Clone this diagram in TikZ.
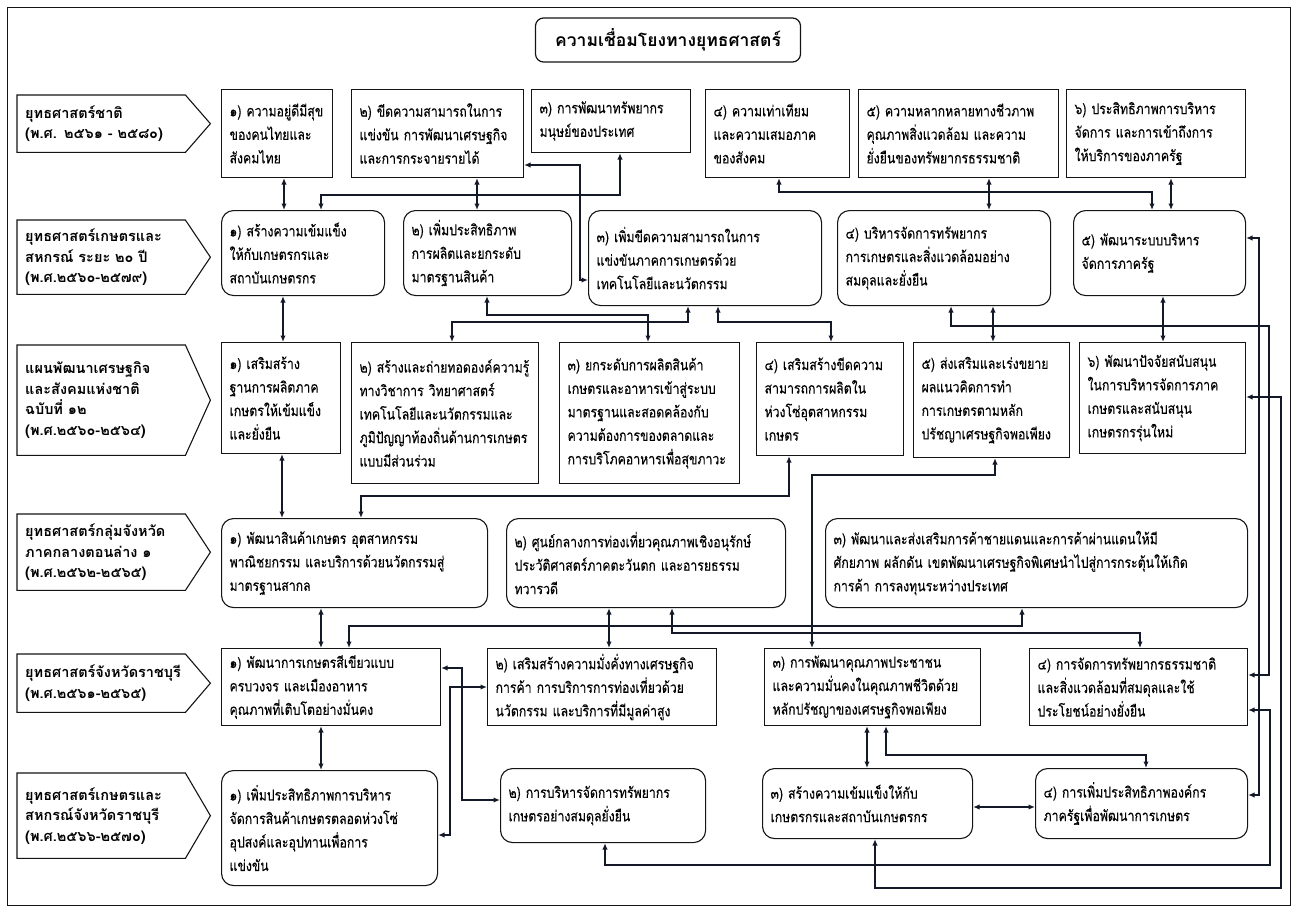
\documentclass[tikz,border=0pt]{standalone}
\usepackage{fontspec}
\newfontfamily\thaifont[Script=Thai, FakeStretch=0.82, FakeBold=0.25]{Loma}
\newfontfamily\thaiwide[Script=Thai]{Loma}
\usepackage{xcolor}
\definecolor{LinkColor}{RGB}{20,25,40}
\definecolor{BoxBorder}{RGB}{20,20,20}
\usepackage{tikz}
\usetikzlibrary{arrows.meta}
\tikzset{
  % square box
  sbox/.style={
    draw=BoxBorder,
    rectangle,
    anchor=north west,
    align=left,
    inner xsep=8pt,
    inner ysep=2pt,
    line width=1.1pt,
    font=\thaifont\fontsize{15}{23.5}\selectfont
  },
  % rounded box
  rbox/.style={sbox, rounded corners=12pt},
  % row label (arrow shaped)
  stage/.style={
    anchor=north west,
    align=left,
    inner xsep=8pt,
    inner ysep=2pt,
    font=\thaiwide\bfseries\fontsize{14.5}{20.5}\selectfont
  },
  stageline/.style={draw=BoxBorder, line width=1.1pt},
  % title box
  titlebox/.style={
    draw=BoxBorder,
    rounded corners=8pt,
    line width=1.2pt,
    minimum width=265pt,
    minimum height=44pt,
    font=\thaiwide\bfseries\fontsize{17.5}{20}\selectfont
  },
  % connector
  link/.style={
    draw=LinkColor,
    line width=1.4pt,
    {Latex[length=6.5pt,width=5.5pt]}-{Latex[length=6.5pt,width=5.5pt]}
  },
  outerframe/.style={draw=BoxBorder, line width=0.8pt}
}

\begin{document}
\begin{tikzpicture}[x=1pt, y=-1pt]
  \useasboundingbox (0,0) rectangle (1297,912);
  \draw[outerframe] (7,7) rectangle (1290,905);

  \node[titlebox] (title) at (668,40) {ความเชื่อมโยงทางยุทธศาสตร์};

  % row labels
  \node[stage, text width=152pt, minimum height=57pt] (s1) at (17,95) {ยุทธศาสตร์ชาติ\\(พ.ศ. ๒๕๖๑ - ๒๕๘๐)};
  \node[stage, text width=152pt, minimum height=74pt] (s2) at (17,220) {ยุทธศาสตร์เกษตรและ\\สหกรณ์ ระยะ ๒๐ ปี\\(พ.ศ.๒๕๖๐-๒๕๗๙)};
  \node[stage, text width=152pt, minimum height=110pt] (s3) at (17,345) {แผนพัฒนาเศรษฐกิจ\\และสังคมแห่งชาติ\\ฉบับที่ ๑๒\\(พ.ศ.๒๕๖๐-๒๕๖๔)};
  \node[stage, text width=152pt, minimum height=76pt] (s4) at (17,514) {ยุทธศาสตร์กลุ่มจังหวัด\\ภาคกลางตอนล่าง ๑\\(พ.ศ.๒๕๖๒-๒๕๖๕)};
  \node[stage, text width=152pt, minimum height=58pt] (s5) at (17,654) {ยุทธศาสตร์จังหวัดราชบุรี\\(พ.ศ.๒๕๖๑-๒๕๖๕)};
  \node[stage, text width=152pt, minimum height=85pt] (s6) at (17,773) {ยุทธศาสตร์เกษตรและ\\สหกรณ์จังหวัดราชบุรี\\(พ.ศ.๒๕๖๖-๒๕๗๐)};
  \foreach \i in {1,...,6} {
    \draw[stageline] (s\i.north west) -- (s\i.north east) -- ([xshift=25pt]s\i.east)
      -- (s\i.south east) -- (s\i.south west) -- cycle;
  }

  % national strategy
  \node[sbox, text width=95pt, minimum height=88pt] (a1) at (221,89) {๑) ความอยู่ดีมีสุข\\ของคนไทยและ\\สังคมไทย};
  \node[sbox, text width=156pt, minimum height=88pt] (a2) at (351,89) {๒) ขีดความสามารถในการ\\แข่งขัน การพัฒนาเศรษฐกิจ\\และการกระจายรายได้};
  \node[sbox, text width=143pt, minimum height=63pt] (a3) at (531,89) {๓) การพัฒนาทรัพยากร\\มนุษย์ของประเทศ};
  \node[sbox, text width=128pt, minimum height=88pt] (a4) at (705,89) {๔) ความเท่าเทียม\\และความเสมอภาค\\ของสังคม};
  \node[sbox, text width=184pt, minimum height=88pt] (a5) at (858,89) {๕) ความหลากหลายทางชีวภาพ\\คุณภาพสิ่งแวดล้อม และความ\\ยั่งยืนของทรัพยากรธรรมชาติ};
  \node[sbox, text width=163pt, minimum height=88pt] (a6) at (1066,89) {๖) ประสิทธิภาพการบริหาร\\จัดการ และการเข้าถึงการ\\ให้บริการของภาครัฐ};

  % agriculture 20 years
  \node[rbox, text width=147pt, minimum height=85pt] (b1) at (221,210) {๑) สร้างความเข้มแข็ง\\ให้กับเกษตรกรและ\\สถาบันเกษตรกร};
  \node[rbox, text width=152pt, minimum height=85pt] (b2) at (403,210) {๒) เพิ่มประสิทธิภาพ\\การผลิตและยกระดับ\\มาตรฐานสินค้า};
  \node[rbox, text width=217pt, minimum height=95pt] (b3) at (588,210) {๓) เพิ่มขีดความสามารถในการ\\แข่งขันภาคการเกษตรด้วย\\เทคโนโลยีและนวัตกรรม};
  \node[rbox, text width=197pt, minimum height=95pt] (b4) at (837,210) {๔) บริหารจัดการทรัพยากร\\การเกษตรและสิ่งแวดล้อมอย่าง\\สมดุลและยั่งยืน};
  \node[rbox, text width=156pt, minimum height=85pt] (b5) at (1073,210) {๕) พัฒนาระบบบริหาร\\จัดการภาครัฐ};

  % national plan 12
  \node[sbox, text width=103pt, minimum height=111pt] (c1) at (221,342) {๑) เสริมสร้าง\\ฐานการผลิตภาค\\เกษตรให้เข้มแข็ง\\และยั่งยืน};
  \node[sbox, text width=171pt, minimum height=141pt] (c2) at (351,342) {๒) สร้างและถ่ายทอดองค์ความรู้\\ทางวิชาการ วิทยาศาสตร์\\เทคโนโลยีและนวัตกรรมและ\\ภูมิปัญญาท้องถิ่นด้านการเกษตร\\แบบมีส่วนร่วม};
  \node[sbox, text width=164pt, minimum height=141pt] (c3) at (559,342) {๓) ยกระดับการผลิตสินค้า\\เกษตรและอาหารเข้าสู่ระบบ\\มาตรฐานและสอดคล้องกับ\\ความต้องการของตลาดและ\\การบริโภคอาหารเพื่อสุขภาวะ};
  \node[sbox, text width=131pt, minimum height=113pt] (c4) at (756,342) {๔) เสริมสร้างขีดความ\\สามารถการผลิตใน\\ห่วงโซ่อุตสาหกรรม\\เกษตร};
  \node[sbox, text width=140pt, minimum height=115pt] (c5) at (913,342) {๕) ส่งเสริมและเร่งขยาย\\ผลแนวคิดการทำ\\การเกษตรตามหลัก\\ปรัชญาเศรษฐกิจพอเพียง};
  \node[sbox, text width=150pt, minimum height=111pt] (c6) at (1079,342) {๖) พัฒนาปัจจัยสนับสนุน\\ในการบริหารจัดการภาค\\เกษตรและสนับสนุน\\เกษตรกรรุ่นใหม่};

  % province group
  \node[rbox, text width=250pt, minimum height=89pt] (d1) at (221,518) {๑) พัฒนาสินค้าเกษตร อุตสาหกรรม\\พาณิชยกรรม และบริการด้วยนวัตกรรมสู่\\มาตรฐานสากล};
  \node[rbox, text width=263pt, minimum height=89pt] (d2) at (506,518) {๒) ศูนย์กลางการท่องเที่ยวคุณภาพเชิงอนุรักษ์\\ประวัติศาสตร์ภาคตะวันตก และอารยธรรม\\ทวารวดี};
  \node[rbox, text width=406pt, minimum height=89pt] (d3) at (825,518) {๓) พัฒนาและส่งเสริมการค้าชายแดนและการค้าผ่านแดนให้มี\\ศักยภาพ ผลักดัน เขตพัฒนาเศรษฐกิจพิเศษนำไปสู่การกระตุ้นให้เกิด\\การค้า การลงทุนระหว่างประเทศ};

  % Ratchaburi
  \node[sbox, text width=203pt, minimum height=77pt] (e1) at (221,648) {๑) พัฒนาการเกษตรสีเขียวแบบ\\ครบวงจร และเมืองอาหาร\\คุณภาพที่เติบโตอย่างมั่นคง};
  \node[sbox, text width=213pt, minimum height=77pt] (e2) at (487,648) {๒) เสริมสร้างความมั่งคั่งทางเศรษฐกิจ\\การค้า การบริการการท่องเที่ยวด้วย\\นวัตกรรม และบริการที่มีมูลค่าสูง};
  \node[sbox, text width=200pt, minimum height=77pt] (e3) at (764,648) {๓) การพัฒนาคุณภาพประชาชน\\และความมั่นคงในคุณภาพชีวิตด้วย\\หลักปรัชญาของเศรษฐกิจพอเพียง};
  \node[sbox, text width=202pt, minimum height=77pt] (e4) at (1029,648) {๔) การจัดการทรัพยากรธรรมชาติ\\และสิ่งแวดล้อมที่สมดุลและใช้\\ประโยชน์อย่างยั่งยืน};

  % Ratchaburi agriculture
  \node[rbox, text width=200pt, minimum height=115pt] (f1) at (221,770) {๑) เพิ่มประสิทธิภาพการบริหาร\\จัดการสินค้าเกษตรตลอดห่วงโซ่\\อุปสงค์และอุปทานเพื่อการ\\แข่งขัน};
  \node[rbox, text width=189pt, minimum height=74pt] (f2) at (500,768) {๒) การบริหารจัดการทรัพยากร\\เกษตรอย่างสมดุลยั่งยืน};
  \node[rbox, text width=194pt, minimum height=70pt] (f3) at (762,768) {๓) สร้างความเข้มแข็งให้กับ\\เกษตรกรและสถาบันเกษตรกร};
  \node[rbox, text width=196pt, minimum height=70pt] (f4) at (1035,768) {๔) การเพิ่มประสิทธิภาพองค์กร\\ภาครัฐเพื่อพัฒนาการเกษตร};

  % links row 1 - row 2
  \draw[link] (284,0 |- a1.south) -- (284,0 |- b1.north);
  \draw[link] (620,0 |- a3.south) |- (321,195) -- (321,0 |- b1.north);
  \draw[link] (477,0 |- a2.south) -- (477,0 |- b2.north);
  \draw[link] (a2.east |- 0,165) -| (580,280) -- (b3.west |- 0,280);
  \draw[link] (779,0 |- a4.south) |- (1152,192) -- (1152,0 |- b5.north);
  \draw[link] (989,0 |- a5.south) -- (989,0 |- b4.north);
  \draw[link] (1171,0 |- a6.south) -- (1171,0 |- b5.north);

  % links row 2 - row 3
  \draw[link] (283,0 |- b1.south) -- (283,0 |- c1.north);
  \draw[link] (487,0 |- b2.south) |- (648,315) -- (648,0 |- c3.north);
  \draw[link] (688,0 |- b3.south) |- (452,322) -- (452,0 |- c2.north);
  \draw[link] (718,0 |- b3.south) |- (831,322) -- (831,0 |- c4.north);
  \draw[link] (993,0 |- b4.south) -- (993,0 |- c5.north);
  \draw[link] (951,0 |- b4.south) |- (1269,326) |- (e4.east |- 0,675);
  \draw[link] (1163,0 |- b5.south) -- (1163,0 |- c6.north);
  \draw[link] (b5.east |- 0,238) -| (1259,795) -- (f4.east |- 0,795);

  % links row 3 - row 4
  \draw[link] (c6.east |- 0,397) -| (1281,888) -| (875,0 |- f3.south);
  \draw[link] (282,0 |- c1.south) -- (282,0 |- d1.north);
  \draw[link] (789,0 |- c4.south) |- (361,496) -- (361,0 |- d1.north);
  \draw[link] (995,0 |- c5.south) |- (812,475) -- (812,0 |- e3.north);

  % links row 4 - row 5
  \draw[link] (321,0 |- d1.south) -- (321,0 |- e1.north);
  \draw[link] (1022,0 |- d3.south) |- (349,626) -- (349,0 |- e1.north);
  \draw[link] (609,0 |- d2.south) -- (609,0 |- e2.north);
  \draw[link] (672,0 |- d2.south) |- (1140,633) -- (1140,0 |- e4.north);

  % links row 5 - row 6
  \draw[link] (321,0 |- e1.south) -- (321,0 |- f1.north);
  \draw[link] (e1.east |- 0,668) -| (462,800) -- (f2.west |- 0,800);
  \draw[link] (e2.west |- 0,687) -| (450,835) -- (f1.east |- 0,835);
  \draw[link] (867,0 |- e3.south) -- (867,0 |- f3.north);
  \draw[link] (886,0 |- e3.south) |- (1146,755) -- (1146,0 |- f4.north);
  \draw[link] (f3.east |- 0,807) -- (f4.west |- 0,807);
  \draw[link] (e4.east |- 0,710) -| (1270,865) -| (605,0 |- f2.south);
\end{tikzpicture}
\end{document}
